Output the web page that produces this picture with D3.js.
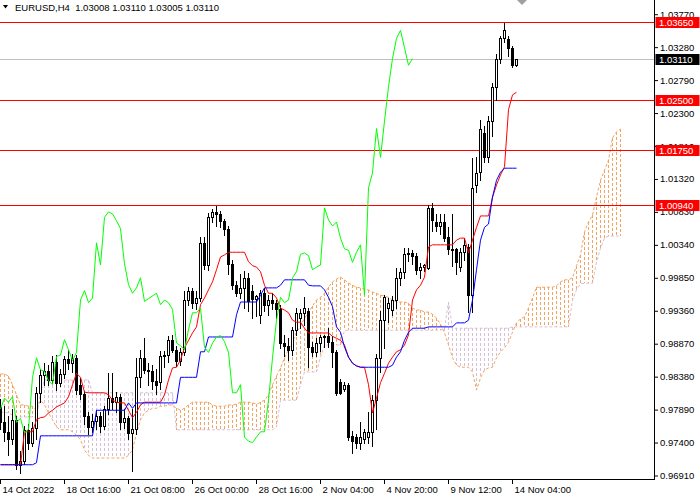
<!DOCTYPE html>
<html><head><meta charset="utf-8">
<script src="https://cdn.jsdelivr.net/npm/d3@7"></script>
<style>html,body{margin:0;padding:0;background:#fff;} svg{display:block;font-family:"Liberation Sans",Arial,sans-serif;}</style>
</head><body><div id="chart"></div>
<script>
// ---------------- data ----------------
const symbol = "EURUSD,H4";
const xTickBars = [0,16,32,48,64,80,96,112,128];
const xTickLabels = ["14 Oct 2022","18 Oct 16:00","21 Oct 08:00","26 Oct 00:00","28 Oct 16:00","2 Nov 04:00","4 Nov 20:00","9 Nov 12:00","14 Nov 04:00"];
const yTickValues = [0.9691,0.9740,0.9789,0.9838,0.9887,0.9936,0.9985,1.0034,1.0083,1.0132,1.0181,1.0230,1.0279,1.0328,1.0377];
const redLevels = [1.0365,1.0250,1.0175,1.0094];
const chikouShift = 26;

const open = [0.9793,0.9771,0.9756,0.9745,0.9773,0.9707,0.9712,0.9758,0.9740,0.9762,
0.9814,0.9840,0.9846,0.9833,0.9860,0.9828,0.9842,0.9864,0.9858,0.9866,
0.9826,0.9812,0.9779,0.9763,0.9772,0.9780,0.9764,0.9790,0.9806,0.9800,
0.9808,0.9770,0.9776,0.9754,0.9760,0.9837,0.9866,0.9848,0.9846,0.9832,
0.9830,0.9868,0.9870,0.9893,0.9878,0.9862,0.9874,0.9952,0.9966,0.9948,
0.9955,1.0037,1.0004,1.0075,1.0083,1.0080,1.0070,1.0058,1.0006,0.9975,
0.9962,0.9970,0.9985,0.9966,0.9954,0.9930,0.9962,0.9945,0.9952,0.9948,
0.9938,0.9888,0.9884,0.9878,0.9908,0.9925,0.9933,0.9935,0.9882,0.9874,
0.9888,0.9897,0.9899,0.9890,0.9874,0.9830,0.9820,0.9826,0.9750,0.9748,
0.9740,0.9746,0.9748,0.9756,0.9803,0.9866,0.9922,0.9940,0.9937,0.9952,
0.9985,0.9994,1.0020,1.0022,1.0017,0.9997,1.0001,1.0000,1.0089,1.0068,
1.0062,1.0068,1.0046,1.0028,1.0028,1.0001,1.0023,1.0031,0.9959,1.0123,
1.0142,1.0201,1.0164,1.0218,1.0269,1.0311,1.0341,1.0340,1.0327,1.03008];

const high = [0.9805,0.9795,0.9780,0.9790,0.9780,0.9728,0.9765,0.9768,0.9770,0.9822,
0.9850,0.9858,0.9856,0.9868,0.9870,0.9850,0.9868,0.9878,0.9872,0.9870,
0.9836,0.9816,0.9786,0.9782,0.9788,0.9786,0.9795,0.9843,0.9843,0.9815,
0.9812,0.9790,0.9780,0.9790,0.9866,0.9878,0.9895,0.9858,0.9856,0.9850,
0.9876,0.9876,0.9898,0.9900,0.9884,0.9880,0.9966,0.9972,0.9970,0.9965,
1.0045,1.0045,1.0082,1.0088,1.0092,1.0085,1.0073,1.0062,1.0012,0.9980,
0.9990,0.9995,0.9992,0.9975,0.9960,0.9967,0.9970,0.9960,0.9962,0.9952,
0.9945,0.9900,0.9895,0.9912,0.9940,0.9938,0.9956,0.9940,0.9890,0.9895,
0.9900,0.9900,0.9910,0.9898,0.9878,0.9835,0.9830,0.9828,0.9757,0.9752,
0.9770,0.9760,0.9785,0.9810,0.9872,0.9935,0.9960,0.9955,0.9958,1.0000,
1.0000,1.0030,1.0030,1.0026,1.0022,1.0007,1.0005,1.0093,1.0096,1.0080,
1.0080,1.0080,1.0060,1.0080,1.0030,1.0030,1.0044,1.0036,1.0163,1.0165,
1.0219,1.0210,1.0225,1.0275,1.0318,1.0345,1.0364,1.0345,1.0330,1.0311];

const low = [0.9760,0.9742,0.9722,0.9738,0.9700,0.9695,0.9708,0.9730,0.9735,0.9745,
0.9800,0.9826,0.9825,0.9828,0.9818,0.9824,0.9836,0.9850,0.9845,0.9812,
0.9805,0.9768,0.9752,0.9756,0.9760,0.9755,0.9760,0.9782,0.9790,0.9786,
0.9760,0.9762,0.9745,0.9698,0.9752,0.9822,0.9843,0.9826,0.9820,0.9812,
0.9820,0.9852,0.9860,0.9874,0.9854,0.9856,0.9870,0.9945,0.9940,0.9938,
0.9950,0.9998,0.9996,1.0068,1.0062,1.0060,1.0048,0.9990,0.9968,0.9958,
0.9955,0.9940,0.9935,0.9925,0.9928,0.9918,0.9935,0.9930,0.9938,0.9925,
0.9880,0.9868,0.9863,0.9870,0.9900,0.9910,0.9915,0.9852,0.9868,0.9868,
0.9876,0.9882,0.9882,0.9852,0.9810,0.9812,0.9817,0.9744,0.9725,0.9732,
0.9730,0.9740,0.9740,0.9735,0.9760,0.9845,0.9880,0.9920,0.9930,0.9940,
0.9975,0.9985,1.0010,1.0005,0.9990,0.9985,0.9995,0.9998,1.0055,1.0055,
1.0050,1.0040,1.0020,1.0002,0.9990,0.9995,1.0012,0.9934,0.9934,1.0113,
1.0130,1.0157,1.0157,1.0196,1.0250,1.0305,1.0336,1.0315,1.0298,1.03005];

const close = [0.9771,0.9756,0.9745,0.9773,0.9707,0.9712,0.9758,0.9740,0.9762,0.9814,
0.9840,0.9846,0.9833,0.9860,0.9828,0.9842,0.9864,0.9858,0.9866,0.9818,
0.9812,0.9779,0.9763,0.9772,0.9780,0.9764,0.9790,0.9806,0.9800,0.9808,
0.9770,0.9776,0.9754,0.9760,0.9837,0.9866,0.9848,0.9846,0.9832,0.9826,
0.9868,0.9870,0.9893,0.9878,0.9862,0.9874,0.9952,0.9966,0.9948,0.9955,
1.0037,1.0004,1.0075,1.0083,1.0080,1.0070,1.0058,1.0006,0.9975,0.9962,
0.9970,0.9985,0.9950,0.9954,0.9958,0.9962,0.9945,0.9952,0.9948,0.9938,
0.9888,0.9884,0.9878,0.9908,0.9933,0.9933,0.9940,0.9882,0.9874,0.9888,
0.9897,0.9899,0.9890,0.9874,0.9814,0.9814,0.9826,0.9748,0.9742,0.9740,
0.9748,0.9756,0.9756,0.9803,0.9866,0.9922,0.9956,0.9948,0.9952,0.9985,
0.9994,1.0020,1.0022,1.0018,0.9997,1.0001,1.0004,1.0089,1.0071,1.0062,
1.0068,1.0044,1.0028,1.0026,1.0008,1.0023,1.0034,0.9959,1.0119,1.0141,
1.0207,1.0164,1.0218,1.0269,1.0311,1.0341,1.0353,1.0327,1.0301,1.0311];

const tenkan = [0.9707,0.9707,0.9707,0.9707,0.9707,0.9707,0.9756,0.9756,0.9756,0.9774,
0.9777,0.9778,0.9784,0.9788,0.9793,0.9796,0.9799,0.9808,0.9826,0.9843,
0.9837,0.9815,0.9814,0.9814,0.9814,0.9814,0.9814,0.9811,0.9803,0.9800,
0.9799,0.9799,0.9788,0.9777,0.9785,0.9796,0.9800,0.9800,0.9800,0.9800,
0.9800,0.9811,0.9833,0.9851,0.9852,0.9863,0.9881,0.9892,0.9903,0.9912,
0.9945,0.9955,0.9967,0.9979,0.9997,1.0016,1.0019,1.0023,1.0023,1.0023,
1.0023,1.0023,1.0009,1.0003,1.0001,0.9994,0.9974,0.9962,0.9962,0.9955,
0.9940,0.9937,0.9933,0.9922,0.9919,0.9919,0.9910,0.9903,0.9903,0.9903,
0.9903,0.9903,0.9903,0.9898,0.9895,0.9892,0.9885,0.9867,0.9858,0.9854,
0.9852,0.9852,0.9826,0.9784,0.9806,0.9829,0.9843,0.9858,0.9867,0.9875,
0.9878,0.9885,0.9900,0.9952,0.9967,0.9974,0.9986,1.0031,1.0034,1.0034,
1.0034,1.0034,1.0034,1.0034,1.0041,1.0044,1.0044,1.0022,1.0041,1.0060,
1.0077,1.0077,1.0077,1.0105,1.0123,1.0138,1.0150,1.0235,1.0257,1.0261];

const kijun = [0.9707,0.9707,0.9707,0.9707,0.9707,0.9707,0.9707,0.9707,0.9707,0.9710,
0.9750,0.9750,0.9750,0.9750,0.9750,0.9750,0.9750,0.9750,0.9750,0.9750,
0.9750,0.9750,0.9750,0.9750,0.9788,0.9788,0.9788,0.9788,0.9788,0.9788,
0.9788,0.9788,0.9799,0.9791,0.9799,0.9799,0.9799,0.9799,0.9799,0.9799,
0.9799,0.9799,0.9799,0.9799,0.9799,0.9837,0.9837,0.9837,0.9837,0.9837,
0.9875,0.9875,0.9897,0.9897,0.9897,0.9897,0.9897,0.9897,0.9897,0.9930,
0.9949,0.9949,0.9949,0.9949,0.9949,0.9959,0.9970,0.9970,0.9970,0.9970,
0.9974,0.9982,0.9982,0.9982,0.9982,0.9982,0.9982,0.9974,0.9973,0.9973,
0.9973,0.9967,0.9956,0.9942,0.9912,0.9904,0.9882,0.9867,0.9858,0.9854,
0.9852,0.9852,0.9852,0.9852,0.9852,0.9852,0.9852,0.9852,0.9855,0.9867,
0.9875,0.9892,0.9904,0.9910,0.9910,0.9910,0.9910,0.9912,0.9912,0.9912,
0.9912,0.9912,0.9912,0.9912,0.9918,0.9918,0.9918,0.9922,0.9952,0.9997,
1.0041,1.0060,1.0065,1.0105,1.0130,1.0142,1.0148,1.0148,1.0148,1.0148];

const spanA = [0.9842,0.9842,0.9839,0.9826,0.9811,0.9796,0.9796,0.9794,0.9794,0.9788,
0.9803,0.9796,0.9784,0.9774,0.9763,0.9759,0.9759,0.9759,0.9756,0.9751,
0.9744,0.9729,0.9721,0.9717,0.9717,0.9717,0.9717,0.9717,0.9717,0.9717,
0.9717,0.9717,0.9721,0.9729,0.9754,0.9774,0.9784,0.9788,0.9791,0.9791,
0.9794,0.9794,0.9796,0.9796,0.9791,0.9788,0.9791,0.9796,0.9800,0.9800,
0.9800,0.9800,0.9800,0.9796,0.9794,0.9794,0.9794,0.9796,0.9796,0.9797,
0.9800,0.9800,0.9800,0.9799,0.9797,0.9800,0.9803,0.9811,0.9826,0.9839,
0.9851,0.9866,0.9878,0.9889,0.9904,0.9913,0.9925,0.9933,0.9943,0.9952,
0.9956,0.9962,0.9971,0.9979,0.9983,0.9986,0.9982,0.9977,0.9974,0.9971,
0.9970,0.9968,0.9967,0.9964,0.9962,0.9959,0.9958,0.9956,0.9952,0.9949,
0.9949,0.9949,0.9947,0.9940,0.9937,0.9937,0.9934,0.9934,0.9931,0.9925,
0.9916,0.9903,0.9885,0.9866,0.9855,0.9852,0.9852,0.9852,0.9845,0.9818,
0.9836,0.9848,0.9851,0.9852,0.9866,0.9875,0.9881,0.9889,0.9904,0.9918,
0.9924,0.9927,0.9940,0.9955,0.9971,0.9971,0.9971,0.9971,0.9971,0.9973,
0.9979,0.9982,0.9982,0.9985,1.0003,1.0019,1.0053,1.0068,1.0078,1.0105,
1.0130,1.0145,1.0160,1.0193,1.0202,1.0206];

const spanB = [0.9785,0.9785,0.9784,0.9781,0.9778,0.9778,0.9778,0.9778,0.9778,0.9778,
0.9815,0.9833,0.9833,0.9833,0.9833,0.9833,0.9833,0.9833,0.9833,0.9833,
0.9833,0.9833,0.9833,0.9814,0.9814,0.9814,0.9814,0.9814,0.9814,0.9814,
0.9814,0.9814,0.9814,0.9814,0.9814,0.9814,0.9814,0.9814,0.9814,0.9814,
0.9814,0.9814,0.9814,0.9814,0.9759,0.9759,0.9759,0.9759,0.9759,0.9759,
0.9759,0.9759,0.9759,0.9759,0.9759,0.9759,0.9759,0.9759,0.9759,0.9759,
0.9759,0.9759,0.9759,0.9759,0.9759,0.9759,0.9759,0.9759,0.9759,0.9763,
0.9803,0.9803,0.9803,0.9803,0.9803,0.9826,0.9845,0.9845,0.9845,0.9845,
0.9867,0.9885,0.9885,0.9885,0.9885,0.9885,0.9907,0.9907,0.9907,0.9907,
0.9907,0.9907,0.9907,0.9907,0.9907,0.9907,0.9907,0.9907,0.9907,0.9907,
0.9907,0.9907,0.9907,0.9907,0.9907,0.9907,0.9907,0.9907,0.9907,0.9907,
0.9907,0.9910,0.9949,0.9910,0.9910,0.9910,0.9910,0.9910,0.9910,0.9910,
0.9910,0.9910,0.9910,0.9910,0.9910,0.9910,0.9910,0.9910,0.9912,0.9912,
0.9912,0.9912,0.9912,0.9912,0.9912,0.9912,0.9912,0.9912,0.9912,0.9912,
0.9912,0.9912,0.9912,0.9952,0.9967,0.9976,0.9977,0.9977,0.9977,1.0008,
1.0029,1.0044,1.0047,1.0047,1.0047,1.0047];

// ---------------- drawing ----------------
const W = 700, H = 500, plotW = 654, plotH = 479;
const fontSize = 9.5;
const x = d3.scaleLinear().domain([0, 163.5]).range([0, plotW]);
const y = d3.scaleLinear().domain([0.9691, 1.0377]).range([475.5, 14.2]);
const px = i => Math.round(x(i));
const fmt = d3.format(".5f");

const svg = d3.select("#chart").append("svg").attr("width", W).attr("height", H);
svg.append("rect").attr("width", W).attr("height", H).attr("fill", "#fff");
svg.append("defs").append("clipPath").attr("id", "plot")
  .append("rect").attr("width", plotW).attr("height", plotH);
const plot = svg.append("g").attr("clip-path", "url(#plot)");

// Ichimoku cloud hatch
const kIdx = d3.range(spanA.length);
plot.append("g").attr("shape-rendering", "crispEdges").selectAll("line").data(kIdx).join("line")
  .attr("x1", k => px(k) + 0.5).attr("x2", k => px(k) + 0.5)
  .attr("y1", k => y(Math.max(spanA[k], spanB[k])))
  .attr("y2", k => y(Math.min(spanA[k], spanB[k])))
  .attr("stroke", k => spanA[k] >= spanB[k] ? "#F4A460" : "#D8BFD8")
  .attr("stroke-width", 1)
  .attr("stroke-dasharray", "3,2");

const lineGen = arr => d3.line().x(i => px(i) + 0.5).y(i => y(arr[i]));
plot.append("path").datum(kIdx).attr("d", lineGen(spanA))
  .attr("fill", "none").attr("stroke", "#F4A460").attr("stroke-dasharray", "3,2");
plot.append("path").datum(kIdx).attr("d", lineGen(spanB))
  .attr("fill", "none").attr("stroke", "#D8BFD8").attr("stroke-dasharray", "3,2");

// horizontal levels
plot.append("g").selectAll("line").data(redLevels).join("line")
  .attr("x1", 0).attr("x2", plotW)
  .attr("y1", d => Math.round(y(d)) + 0.5).attr("y2", d => Math.round(y(d)) + 0.5)
  .attr("stroke", "#FF0000").attr("shape-rendering", "crispEdges");
const bid = close[close.length - 1];
plot.append("line").attr("x1", 0).attr("x2", plotW)
  .attr("y1", Math.round(y(bid)) + 0.5).attr("y2", Math.round(y(bid)) + 0.5)
  .attr("stroke", "#C0C0C0").attr("shape-rendering", "crispEdges");

// candles
const bars = d3.range(close.length);
const cg = plot.append("g").attr("shape-rendering", "crispEdges");
cg.selectAll("line").data(bars).join("line")
  .attr("x1", i => px(i) + 0.5).attr("x2", i => px(i) + 0.5)
  .attr("y1", i => Math.round(y(high[i]))).attr("y2", i => Math.round(y(low[i])) + 1)
  .attr("stroke", "#000");
cg.selectAll("rect.bear").data(bars.filter(i => close[i] < open[i])).join("rect")
  .attr("class", "bear")
  .attr("x", i => px(i) - 1).attr("width", 3)
  .attr("y", i => Math.round(y(open[i])))
  .attr("height", i => Math.max(1, Math.round(y(close[i])) - Math.round(y(open[i])) + 1))
  .attr("fill", "#000");
cg.selectAll("rect.bull").data(bars.filter(i => close[i] >= open[i])).join("rect")
  .attr("class", "bull")
  .attr("x", i => px(i) - 0.5).attr("width", 2)
  .attr("y", i => Math.round(y(close[i])) + 0.5)
  .attr("height", i => Math.max(0, Math.round(y(open[i])) - Math.round(y(close[i]))))
  .attr("fill", "#fff").attr("stroke", "#000");

// Ichimoku lines
plot.append("path").datum(bars).attr("d", lineGen(tenkan))
  .attr("fill", "none").attr("stroke", "#FF0000").attr("stroke-width", 1);
plot.append("path").datum(bars).attr("d", lineGen(kijun))
  .attr("fill", "none").attr("stroke", "#0000FF").attr("stroke-width", 1);
const chikouIdx = d3.range(chikouShift, close.length);
plot.append("path").datum(chikouIdx)
  .attr("d", d3.line().x(i => px(i - chikouShift) + 0.5).y(i => y(close[i])))
  .attr("fill", "none").attr("stroke", "#00FF00").attr("stroke-width", 1);

// frame
svg.append("line").attr("x1", plotW + 0.5).attr("x2", plotW + 0.5).attr("y1", 0).attr("y2", plotH + 1)
  .attr("stroke", "#000").attr("shape-rendering", "crispEdges");
svg.append("line").attr("x1", 0).attr("x2", plotW + 1).attr("y1", plotH + 0.5).attr("y2", plotH + 0.5)
  .attr("stroke", "#000").attr("shape-rendering", "crispEdges");

// axes
const yAxis = d3.axisRight(y).tickValues(yTickValues).tickFormat(fmt)
  .tickSize(4).tickPadding(2).tickSizeOuter(0);
const yg = svg.append("g").attr("transform", `translate(${plotW},0)`).call(yAxis);
yg.select(".domain").remove();
yg.selectAll("text").attr("font-size", fontSize).attr("font-family", "Liberation Sans, Arial, sans-serif").attr("fill", "#000");
yg.selectAll("line").attr("stroke", "#000");

const xAxis = d3.axisBottom(x).tickValues(xTickBars).tickFormat((d, i) => xTickLabels[i])
  .tickSize(5).tickPadding(2).tickSizeOuter(0);
const xg = svg.append("g").attr("transform", `translate(0,${plotH})`).call(xAxis);
xg.select(".domain").remove();
xg.selectAll("text").attr("text-anchor", "start").attr("x", 2)
  .attr("font-size", fontSize).attr("font-family", "Liberation Sans, Arial, sans-serif").attr("fill", "#000");
xg.selectAll("line").attr("stroke", "#000");

// price label boxes
const labelBox = (v, fill) => {
  const yy = Math.round(y(v));
  svg.append("rect").attr("x", plotW + 1.5).attr("y", yy - 5).attr("width", 44).attr("height", 11)
    .attr("fill", fill);
  svg.append("text").attr("x", plotW + 5).attr("y", yy + 3.5).attr("fill", "#fff")
    .attr("font-size", fontSize).text(fmt(v));
};
redLevels.forEach(v => labelBox(v, "#FF0000"));
labelBox(bid, "#000000");

// title
const last = close.length - 1;
svg.append("path").attr("d", "M3,5 L8,5 L5.5,8.5 Z").attr("fill", "#000");
svg.append("text").attr("x", 15).attr("y", 10.5).attr("font-size", fontSize)
  .style("white-space", "pre").attr("fill", "#000")
  .text(`${symbol}  ${fmt(open[last])} ${fmt(high[last])} ${fmt(low[last])} ${fmt(close[last])}`);

// chart shift marker
svg.append("path").attr("d", "M517,0 L527,0 L522,5 Z").attr("fill", "#A0A0A0");
</script>
</body></html>
